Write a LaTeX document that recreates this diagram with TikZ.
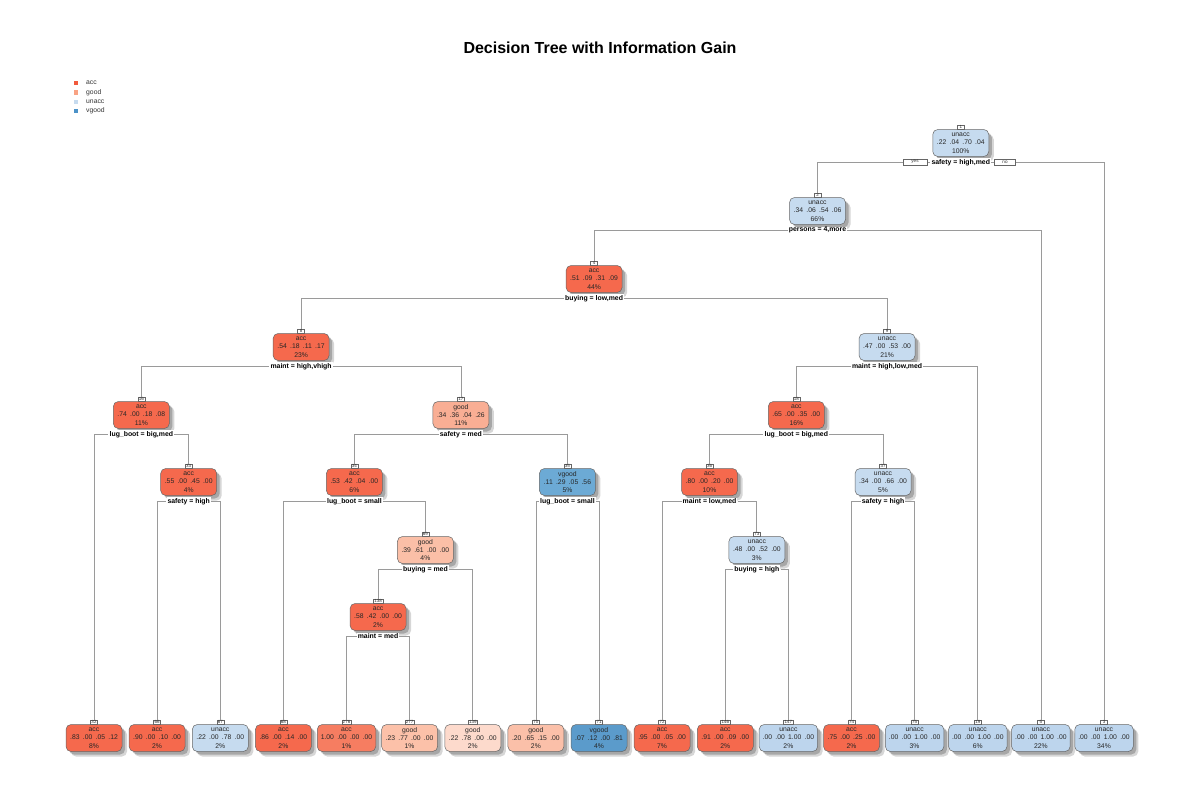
\documentclass[tikz,border=0pt]{standalone}
\usepackage{fontspec}
\setmainfont{Liberation Sans}
\usetikzlibrary{shadows}

% class fills
\definecolor{accC}{HTML}{F5694D}
\definecolor{accL}{HTML}{F67D61}
\definecolor{goodA}{HTML}{F9AE94}
\definecolor{goodB}{HTML}{FBBFA7}
\definecolor{goodC}{HTML}{FBC0A9}
\definecolor{goodD}{HTML}{FCC1A9}
\definecolor{goodE}{HTML}{FDDACC}
\definecolor{unaccC}{HTML}{C6DBEF}
\definecolor{unaccL}{HTML}{BDD5ED}
\definecolor{vgoodA}{HTML}{6CAAD5}
\definecolor{vgoodB}{HTML}{5B9BCB}
\definecolor{edgeC}{HTML}{9A9A9A}
\definecolor{borderC}{HTML}{666666}
% legend keys
\definecolor{legAcc}{HTML}{F15A3D}
\definecolor{legGood}{HTML}{F9A384}
\definecolor{legUnacc}{HTML}{C6DBEF}
\definecolor{legVgood}{HTML}{4B92C8}

% class probabilities, spaced as printed
\newcommand\pv[4]{#1\hspace{3.3pt}#2\hspace{3.3pt}#3\hspace{3.3pt}#4}
% tree box: id, x, y, fill, class, probabilities, percent
\newcommand\mkbox[7]{%
  \node[tbox,fill=#4] (t#1) at (#2,#3) {#5\\\pv#6\\#7\%};
  \node[numbox] (t#1n) at ([yshift=-0.3pt]t#1.north) {#1};}
% split rule under a box
\newcommand\mksplit[2]{%
  \node[splitlab] (s#1) at ([yshift=-5.5pt]t#1.south) {#2};}

\begin{document}
\begin{tikzpicture}[x=1pt,y=-1pt,
  tbox/.style={draw=borderC, line width=0.5pt, rounded corners=5pt,
    minimum width=56pt, minimum height=27pt, inner xsep=3.5pt, inner ysep=2pt,
    align=center, text=black!85,
    font={\fontsize{6.8}{8.3}\selectfont},
    drop shadow={shadow xshift=3pt, shadow yshift=-3pt, opacity=.22, fill=black},
    drop shadow={shadow xshift=5pt, shadow yshift=-5pt, opacity=.16, fill=black}},
  numbox/.style={anchor=south, draw=borderC, line width=0.4pt, fill=white,
    inner xsep=1pt, inner ysep=0.4pt, minimum width=7pt,
    font={\fontsize{4.5}{5}\selectfont}, text=black!80},
  splitlab/.style={fill=white, inner xsep=1pt, inner ysep=0.6pt,
    font={\fontsize{6.9}{7.5}\selectfont\bfseries}, text=black},
  edge/.style={draw=edgeC, line width=0.8pt},
  yesno/.style={draw=borderC, line width=0.4pt, fill=white, inner sep=0pt,
    minimum height=6pt, font={\fontsize{4.6}{5}\selectfont}, text=black!80},
  legkey/.style={fill=#1, minimum size=4.5pt, inner sep=0pt},
  legtext/.style={anchor=west, inner sep=0pt, font={\fontsize{6.8}{7}\selectfont}, text=black!80}
]
\useasboundingbox (0,0) rectangle (1200,800);
\fill[white] (0,0) rectangle (1200,800);

% title
\node[font={\fontsize{16}{18}\selectfont\bfseries}] (title) at (600,48) {Decision Tree with Information Gain};

% legend
\node[legkey=legAcc]   (k1) at (76,83)  {};
\node[legkey=legGood]  (k2) at (76,92.5)  {};
\node[legkey=legUnacc] (k3) at (76,102) {};
\node[legkey=legVgood] (k4) at (76,111) {};
\node[legtext] (l1) at (86,83)  {acc};
\node[legtext] (l2) at (86,92.5)  {good};
\node[legtext] (l3) at (86,102) {unacc};
\node[legtext] (l4) at (86,111) {vgood};

% inner nodes
\mkbox{1}{960.75}{143}{unaccC}{unacc}{{.22}{.04}{.70}{.04}}{100}
\mkbox{2}{817.5}{211}{unaccC}{unacc}{{.34}{.06}{.54}{.06}}{66}
\mkbox{4}{594.1}{279}{accC}{acc}{{.51}{.09}{.31}{.09}}{44}
\mkbox{8}{301.1}{347}{accC}{acc}{{.54}{.18}{.11}{.17}}{23}
\mkbox{9}{887.05}{347}{unaccC}{unacc}{{.47}{.00}{.53}{.00}}{21}
\mkbox{16}{141.35}{415}{accC}{acc}{{.74}{.00}{.18}{.08}}{11}
\mkbox{17}{460.9}{415}{goodA}{good}{{.34}{.36}{.04}{.26}}{11}
\mkbox{18}{796.3}{415}{accC}{acc}{{.65}{.00}{.35}{.00}}{16}
\mkbox{33}{188.7}{482}{accC}{acc}{{.55}{.00}{.45}{.00}}{4}
\mkbox{34}{354.4}{482}{accC}{acc}{{.53}{.42}{.04}{.00}}{6}
\mkbox{35}{567.45}{482}{vgoodA}{vgood}{{.11}{.29}{.05}{.56}}{5}
\mkbox{36}{709.5}{482}{accC}{acc}{{.80}{.00}{.20}{.00}}{10}
\mkbox{37}{883.05}{482}{unaccC}{unacc}{{.34}{.00}{.66}{.00}}{5}
\mkbox{69}{425.4}{550}{goodB}{good}{{.39}{.61}{.00}{.00}}{4}
\mkbox{73}{756.85}{550}{unaccC}{unacc}{{.48}{.00}{.52}{.00}}{3}
\mkbox{138}{378.05}{617}{accC}{acc}{{.58}{.42}{.00}{.00}}{2}

% leaves
\mkbox{32}{94}{738}{accC}{acc}{{.83}{.00}{.05}{.12}}{8}
\mkbox{66}{157.1}{738}{accC}{acc}{{.90}{.00}{.10}{.00}}{2}
\mkbox{67}{220.3}{738}{unaccC}{unacc}{{.22}{.00}{.78}{.00}}{2}
\mkbox{68}{283.4}{738}{accC}{acc}{{.86}{.00}{.14}{.00}}{2}
\mkbox{276}{346.5}{738}{accL}{acc}{{1.00}{.00}{.00}{.00}}{1}
\mkbox{277}{409.6}{738}{goodD}{good}{{.23}{.77}{.00}{.00}}{1}
\mkbox{139}{472.8}{738}{goodE}{good}{{.22}{.78}{.00}{.00}}{2}
\mkbox{70}{535.9}{738}{goodC}{good}{{.20}{.65}{.15}{.00}}{2}
\mkbox{71}{599}{738}{vgoodB}{vgood}{{.07}{.12}{.00}{.81}}{4}
\mkbox{72}{662.1}{738}{accC}{acc}{{.95}{.00}{.05}{.00}}{7}
\mkbox{146}{725.3}{738}{accC}{acc}{{.91}{.00}{.09}{.00}}{2}
\mkbox{147}{788.4}{738}{unaccL}{unacc}{{.00}{.00}{1.00}{.00}}{2}
\mkbox{74}{851.5}{738}{accC}{acc}{{.75}{.00}{.25}{.00}}{2}
\mkbox{75}{914.6}{738}{unaccL}{unacc}{{.00}{.00}{1.00}{.00}}{3}
\mkbox{19}{977.8}{738}{unaccL}{unacc}{{.00}{.00}{1.00}{.00}}{6}
\mkbox{5}{1040.9}{738}{unaccL}{unacc}{{.00}{.00}{1.00}{.00}}{22}
\mkbox{3}{1104}{738}{unaccL}{unacc}{{.00}{.00}{1.00}{.00}}{34}

% split rules
\mksplit{1}{safety = high,med}
\mksplit{2}{persons = 4,more}
\mksplit{4}{buying = low,med}
\mksplit{8}{maint = high,vhigh}
\mksplit{9}{maint = high,low,med}
\mksplit{16}{lug\_boot = big,med}
\mksplit{17}{safety = med}
\mksplit{18}{lug\_boot = big,med}
\mksplit{33}{safety = high}
\mksplit{34}{lug\_boot = small}
\mksplit{35}{lug\_boot = small}
\mksplit{36}{maint = low,med}
\mksplit{37}{safety = high}
\mksplit{69}{buying = med}
\mksplit{73}{buying = high}
\mksplit{138}{maint = med}

% branches
\foreach \p/\l/\r in {1/2/3, 2/4/5, 4/8/9, 8/16/17, 16/32/33, 33/66/67,
    17/34/35, 34/68/69, 69/138/139, 138/276/277, 35/70/71,
    9/18/19, 18/36/37, 36/72/73, 73/146/147, 37/74/75}
  \draw[edge] (t\l n.north) |- (s\p) -| (t\r n.north);

% yes / no tags on the root split
\node[yesno, minimum width=24pt] (yes) at (915,162) {yes};
\node[yesno, minimum width=21pt] (no) at (1005,162) {no};
\end{tikzpicture}
\end{document}
